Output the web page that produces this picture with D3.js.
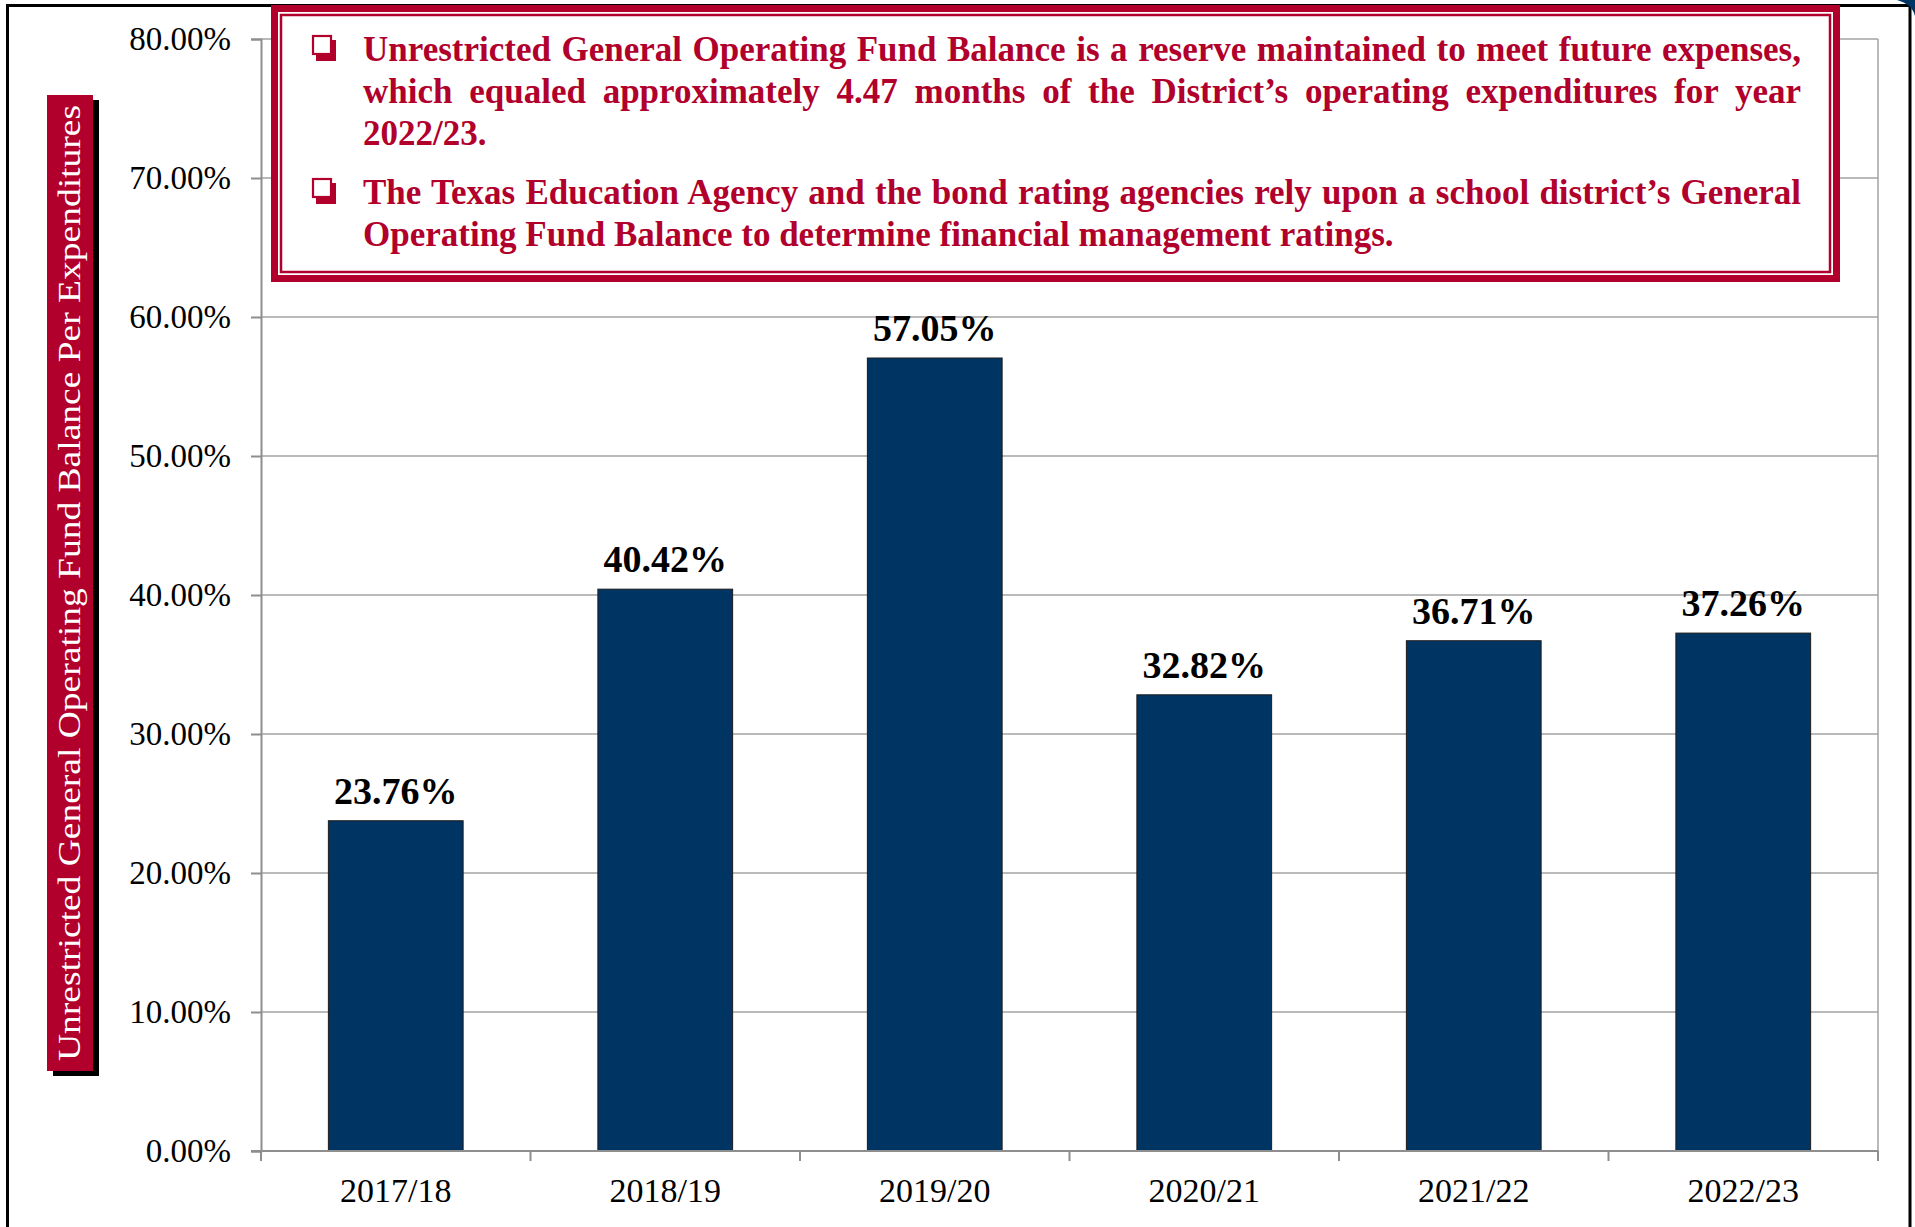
<!DOCTYPE html>
<html>
<head>
<meta charset="utf-8">
<script src="https://cdn.jsdelivr.net/npm/d3@7"></script>
<style>
  body { margin: 0; background: #fff; }
  svg { display: block; }
  text { font-family: "Liberation Serif", "Times New Roman", serif; }
</style>
</head>
<body>
<div id="chart"></div>
<script>
// data
const years = ["2017/18", "2018/19", "2019/20", "2020/21", "2021/22", "2022/23"]
const ratios = [0.2376, 0.4042, 0.5705, 0.3282, 0.3671, 0.3726]
const yTicks = [0, 0.1, 0.2, 0.3, 0.4, 0.5, 0.6, 0.7, 0.8]
const axisTitle = "Unrestricted General Operating Fund Balance Per Expenditures"
// callout lines: [text, justify]
const noteLines = [
  ["Unrestricted General Operating Fund Balance is a reserve maintained to meet future expenses,", true],
  ["which equaled approximately 4.47 months of the District\u2019s operating expenditures for year", true],
  ["2022/23.", false],
  ["The Texas Education Agency and the bond rating agencies rely upon a school district\u2019s General", true],
  ["Operating Fund Balance to determine financial management ratings.", false]
]

const W = 1915, H = 1227
const red = "#b1002b", navy = "#003463", grid = "#a3a3a3", axisCol = "#8e8e8e"

const svg = d3.select("#chart").append("svg")
  .attr("width", W).attr("height", H)

// page frame
svg.append("path")
  .attr("d", "M7.5,1227V5.5H1910V1227")
  .attr("fill", "none").attr("stroke", "#000").attr("stroke-width", 3)
svg.append("path")
  .attr("d", "M1897,0H1915V16Q1912,4,1897,0Z")
  .attr("fill", navy)

const plot = {left: 261, right: 1878, top: 39, bottom: 1151}

const x = d3.scaleBand()
  .domain(years)
  .range([plot.left, plot.right])
  .paddingInner(0.5)
  .paddingOuter(0.25)

const y = d3.scaleLinear()
  .domain([0, 0.8])
  .range([plot.bottom, plot.top])

// grid lines
svg.append("g")
  .selectAll("line")
  .data(yTicks.filter(d => d > 0))
  .join("line")
    .attr("x1", plot.left).attr("x2", plot.right)
    .attr("y1", d => y(d)).attr("y2", d => y(d))
    .attr("stroke", grid).attr("stroke-width", 1.5)

// right border of plot
svg.append("line")
  .attr("x1", plot.right).attr("x2", plot.right)
  .attr("y1", y(0.8)).attr("y2", y(0))
  .attr("stroke", grid).attr("stroke-width", 1.5)

// y axis
const yAxis = svg.append("g")
  .attr("transform", `translate(${plot.left},0)`)
  .call(d3.axisLeft(y).tickValues(yTicks).tickFormat(d3.format(".2%")).tickSize(10).tickPadding(20))
yAxis.select(".domain").attr("stroke", axisCol).attr("stroke-width", 2)
yAxis.selectAll(".tick line").attr("stroke", axisCol).attr("stroke-width", 2)
yAxis.selectAll(".tick text")
  .attr("fill", "#000")
  .style("font-family", '"Liberation Serif", serif')
  .style("font-size", "33px")
  .attr("dy", "0.33em")

// bars
svg.append("g")
  .selectAll("rect")
  .data(years)
  .join("rect")
    .attr("x", d => x(d))
    .attr("y", (d, i) => y(ratios[i]))
    .attr("width", x.bandwidth())
    .attr("height", (d, i) => y(0) - y(ratios[i]))
    .attr("fill", navy)
    .attr("stroke", "#1c1c1c")
    .attr("stroke-width", 1)

// bar labels
svg.append("g")
  .selectAll("text")
  .data(years)
  .join("text")
    .attr("x", d => x(d) + x.bandwidth() / 2)
    .attr("y", (d, i) => y(ratios[i]) - 17)
    .attr("text-anchor", "middle")
    .style("font-size", "38px")
    .style("font-weight", "bold")
    .text((d, i) => d3.format(".2%")(ratios[i]))

// x axis
const step = x.step()
const bounds = d3.range(years.length + 1).map(i => plot.left + i * step)
svg.append("line")
  .attr("x1", plot.left - 10).attr("x2", plot.right)
  .attr("y1", plot.bottom).attr("y2", plot.bottom)
  .attr("stroke", axisCol).attr("stroke-width", 2)
svg.append("g")
  .selectAll("line")
  .data(bounds)
  .join("line")
    .attr("x1", d => d).attr("x2", d => d)
    .attr("y1", plot.bottom).attr("y2", plot.bottom + 10)
    .attr("stroke", axisCol).attr("stroke-width", 2)
svg.append("g")
  .selectAll("text")
  .data(years)
  .join("text")
    .attr("x", d => x(d) + x.bandwidth() / 2)
    .attr("y", 1202)
    .attr("text-anchor", "middle")
    .style("font-size", "34px")
    .text(d => d)

// y axis title box
const tb = {x: 47, y: 95, w: 46, h: 976}
svg.append("rect")
  .attr("x", tb.x + 6).attr("y", tb.y + 5)
  .attr("width", tb.w).attr("height", tb.h)
  .attr("fill", "#000")
svg.append("rect")
  .attr("x", tb.x).attr("y", tb.y)
  .attr("width", tb.w).attr("height", tb.h)
  .attr("fill", red)
svg.append("text")
  .attr("transform", `translate(${tb.x + tb.w / 2 + 10},${tb.y + tb.h / 2}) rotate(-90)`)
  .attr("text-anchor", "middle")
  .attr("textLength", 956)
  .attr("lengthAdjust", "spacingAndGlyphs")
  .attr("fill", "#fff")
  .style("font-size", "31px")
  .text(axisTitle)

// callout box
const cb = {x: 271, y: 5, w: 1569, h: 277}
svg.append("rect")
  .attr("x", cb.x).attr("y", cb.y).attr("width", cb.w).attr("height", cb.h)
  .attr("fill", red)
svg.append("rect")
  .attr("x", cb.x + 7).attr("y", cb.y + 7).attr("width", cb.w - 14).attr("height", cb.h - 14)
  .attr("fill", "#fff")
svg.append("rect")
  .attr("x", cb.x + 10).attr("y", cb.y + 10).attr("width", cb.w - 20).attr("height", cb.h - 20)
  .attr("fill", "none").attr("stroke", red).attr("stroke-width", 2.5)

const textLeft = 363, textRight = 1801
const baselines = [61, 103, 145, 204, 246]

const notes = svg.append("g").attr("fill", red)
noteLines.forEach(([line, justify], i) => {
  const t = notes.append("text")
    .attr("x", textLeft).attr("y", baselines[i])
    .style("font-size", "35px")
    .style("font-weight", "bold")
    .text(line)
  if (justify) {
    const natural = t.node().getComputedTextLength()
    const gaps = line.split(" ").length - 1
    t.style("word-spacing", ((textRight - textLeft - natural) / gaps) + "px")
  }
})

// bullets (hollow shadowed squares)
const bullets = [baselines[0], baselines[3]]
bullets.forEach(b => {
  notes.append("rect")
    .attr("x", 316).attr("y", b - 21).attr("width", 20).attr("height", 21)
    .attr("fill", red)
  notes.append("rect")
    .attr("x", 313).attr("y", b - 25).attr("width", 18).attr("height", 18)
    .attr("fill", "#fff").attr("stroke", red).attr("stroke-width", 2.2)
})
</script>
</body>
</html>
